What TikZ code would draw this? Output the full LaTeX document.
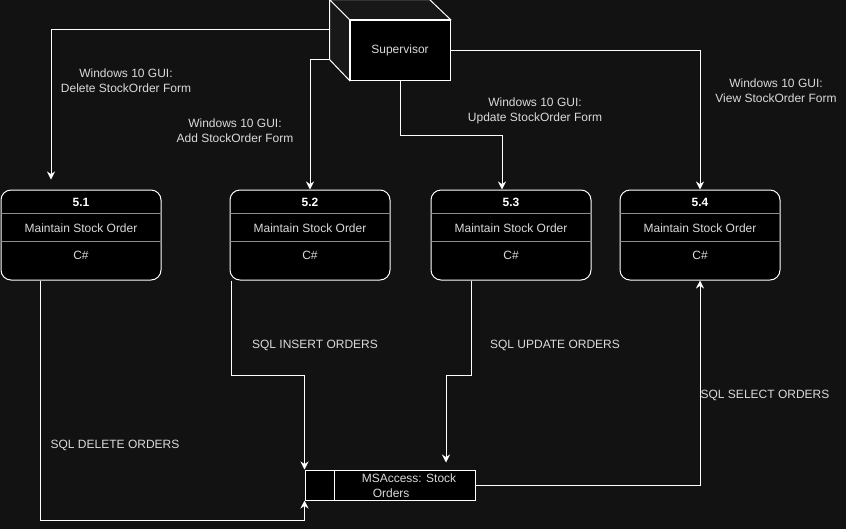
\documentclass[tikz,border=0pt]{standalone}
\usepackage{fontspec}
\setmainfont{Liberation Sans}
\usetikzlibrary{positioning, arrows.meta, calc}
\definecolor{bg}{RGB}{18,18,18}
\definecolor{txt}{RGB}{218,218,218}
\definecolor{side}{RGB}{24,24,24}
\definecolor{rulegray}{RGB}{140,140,140}

\begin{document}
\begin{tikzpicture}[x=0.75pt, y=-0.75pt,
  every node/.style={font=\fontsize{9pt}{11.25pt}\selectfont},
  proc/.style={draw=white, fill=black, rounded corners=7.5pt, line width=0.75pt,
               minimum width=120pt, minimum height=67.5pt, inner sep=0pt},
  ptitle/.style={text=white, yshift=-0.75pt, font=\fontsize{9pt}{11.25pt}\selectfont\bfseries},
  ptext/.style={text=txt, yshift=-0.75pt},
  divline/.style={draw=rulegray, line width=0.75pt},
  cube/.style={draw=white, fill=black, line width=0.75pt,
               minimum width=75pt, minimum height=45pt, inner sep=0pt, text=txt},
  store/.style={draw=white, fill=black, line width=0.75pt,
                minimum width=127.5pt, minimum height=22.5pt, inner sep=0pt},
  lab/.style={text=txt, align=center, yshift=-0.75pt},
  arr/.style={-{Stealth[length=6pt, width=6pt]}, draw=white, line width=0.75pt}
]
  \fill[bg] (0,0) rectangle (846,529);
  \useasboundingbox (0,0) rectangle (846,529);

  % supervisor (external entity)
  \node[cube] (sup) at (400,50) {Supervisor};
  \filldraw[side, draw=white, line width=0.75pt]
    (sup.north west) -- ++(-20,-20) -- ++(0,60) -- (sup.south west) -- cycle;
  \filldraw[side, draw=white, line width=0.75pt]
    (sup.north west) -- ++(-20,-20) -- ++(100,0) -- (sup.north east) -- cycle;
  \coordinate (supA) at ($(sup.north west)+(-20,10)$);
  \coordinate (supB) at ($(sup.north west)+(-20,40)$);

  % processes
  \node[proc] (p1) at (81,235) {};
  \node[proc] (p2) at (310,235) {};
  \node[proc] (p3) at (511,235) {};
  \node[proc] (p4) at (700,235) {};

  \draw[divline] ($(p1.north west)+(0,24)$) -- ($(p1.north east)+(0,24)$);
  \draw[divline] ($(p1.north west)+(0,52)$) -- ($(p1.north east)+(0,52)$);
  \draw[divline] ($(p2.north west)+(0,24)$) -- ($(p2.north east)+(0,24)$);
  \draw[divline] ($(p2.north west)+(0,52)$) -- ($(p2.north east)+(0,52)$);
  \draw[divline] ($(p3.north west)+(0,24)$) -- ($(p3.north east)+(0,24)$);
  \draw[divline] ($(p3.north west)+(0,52)$) -- ($(p3.north east)+(0,52)$);
  \draw[divline] ($(p4.north west)+(0,24)$) -- ($(p4.north east)+(0,24)$);
  \draw[divline] ($(p4.north west)+(0,52)$) -- ($(p4.north east)+(0,52)$);

  \node[ptitle] (p1n) at ($(p1.north)+(0,12)$) {5.1};
  \node[ptext]  (p1m) at ($(p1.north)+(0,38)$) {Maintain Stock Order};
  \node[ptext]  (p1l) at ($(p1.north)+(0,65)$) {C\#};
  \node[ptitle] (p2n) at ($(p2.north)+(0,12)$) {5.2};
  \node[ptext]  (p2m) at ($(p2.north)+(0,38)$) {Maintain Stock Order};
  \node[ptext]  (p2l) at ($(p2.north)+(0,65)$) {C\#};
  \node[ptitle] (p3n) at ($(p3.north)+(0,12)$) {5.3};
  \node[ptext]  (p3m) at ($(p3.north)+(0,38)$) {Maintain Stock Order};
  \node[ptext]  (p3l) at ($(p3.north)+(0,65)$) {C\#};
  \node[ptitle] (p4n) at ($(p4.north)+(0,12)$) {5.4};
  \node[ptext]  (p4m) at ($(p4.north)+(0,38)$) {Maintain Stock Order};
  \node[ptext]  (p4l) at ($(p4.north)+(0,65)$) {C\#};

  % data store
  \node[store] (db) at (390,485) {};
  \draw[draw=white, line width=0.75pt] ($(db.north west)+(30,0)$) -- ($(db.south west)+(30,0)$);
  \node[text=txt, anchor=west, inner sep=0pt, align=left, yshift=-0.75pt] (dbt) at ($(db.west)+(57,0)$)
    {MSAccess: Stock\\\hspace*{8.25pt}Orders};

  % flows from supervisor
  \draw[arr, shorten >=7.5pt] (supA) -| ($(p1.north)+(-30,0)$);
  \draw[arr] (supB) -| (p2.north);
  \draw[arr] (sup.south) -- ++(0,55) -| ($(p3.north)+(-9,0)$);
  \draw[arr] (sup.east) -| (p4.north);

  % flows to / from data store
  \draw[arr] ($(p1.south)+(-41,0)$) |- ($(db.south west)+(0,20)$) -- (db.south west);
  \draw[arr] ($(p2.south)+(-79,0)$) -- ++(0,95) -| (db.north west);
  \draw[arr, shorten >=5.25pt] ($(p3.south)+(-40,0)$) -- ++(0,95) -| ($(db.north)+(56,0)$);
  \draw[arr] (db.east) -| (p4.south);

  % labels
  \node[lab] (l1) at (126,80)  {Windows 10 GUI:\\Delete StockOrder Form};
  \node[lab] (l2) at (235,130) {Windows 10 GUI:\\Add StockOrder Form};
  \node[lab] (l3) at (535,110) {Windows 10 GUI:\\Update StockOrder Form};
  \node[lab] (l4) at (776,90)  {Windows 10 GUI:\\View StockOrder Form};
  \node[lab] (l5) at (115,444) {SQL DELETE ORDERS};
  \node[lab] (l6) at (315,344) {SQL INSERT ORDERS};
  \node[lab] (l7) at (555,344) {SQL UPDATE ORDERS};
  \node[lab] (l8) at (765,394) {SQL SELECT ORDERS};
\end{tikzpicture}
\end{document}
